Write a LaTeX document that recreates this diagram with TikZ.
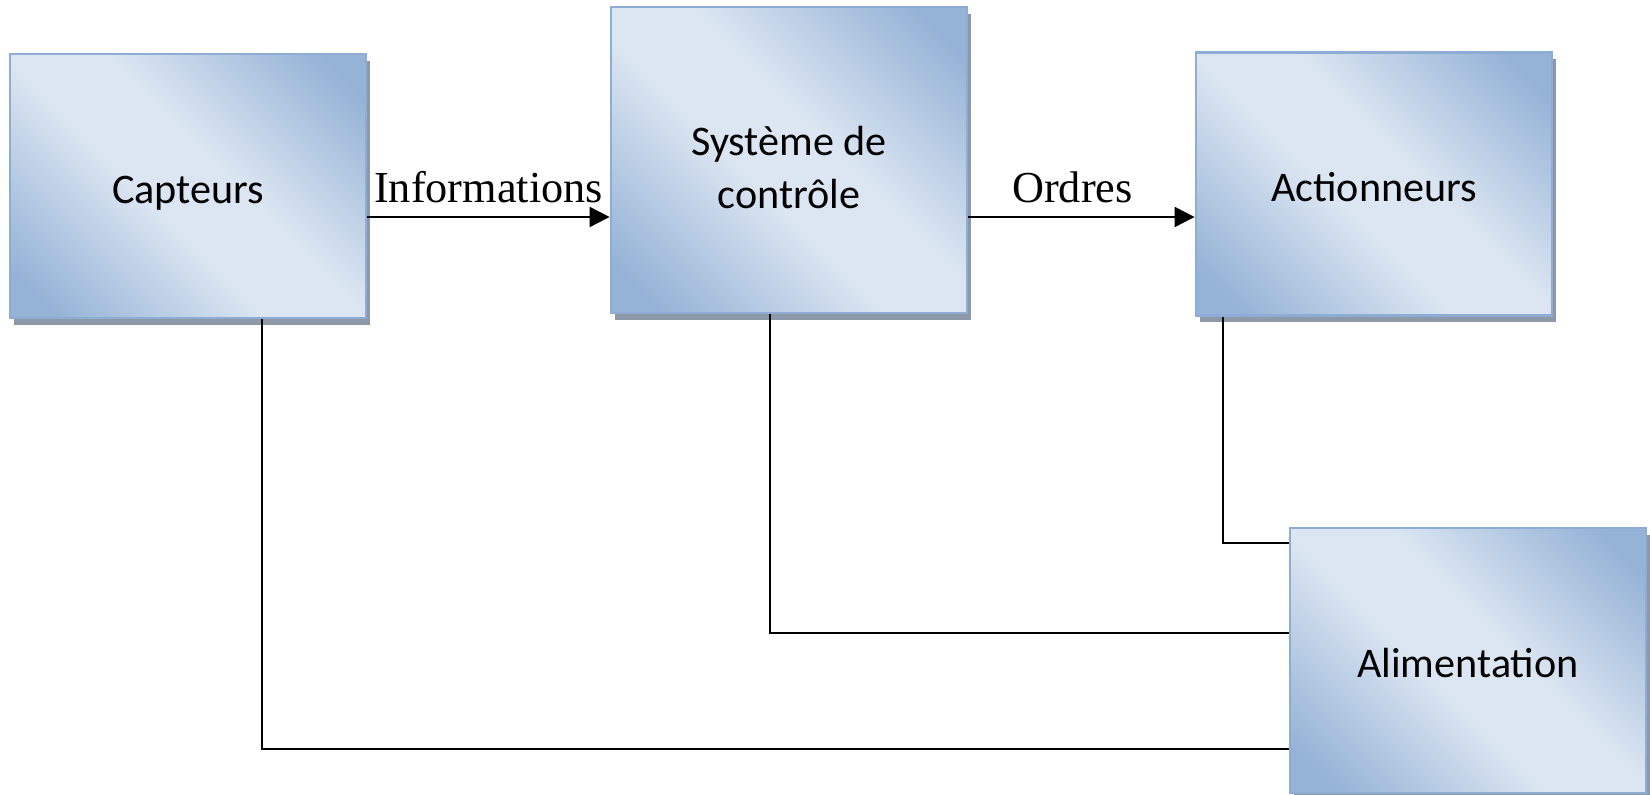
\documentclass[tikz,border=0pt]{standalone}
\usepackage{fontspec}
\setmainfont{Carlito}
\newfontfamily\labelfont{Liberation Serif}
\usepackage{tikz}
\usetikzlibrary{arrows.meta,positioning,shadows}
\definecolor{boxdark}{HTML}{95B3D7}
\definecolor{boxlight}{HTML}{DCE6F2}
\definecolor{boxborder}{HTML}{8EACD4}
\definecolor{boxshadow}{HTML}{8D99A9}
\pgfdeclarehorizontalshading{boxshade}{100bp}{color(0bp)=(boxdark); color(20bp)=(boxdark); color(44bp)=(boxlight); color(56bp)=(boxlight); color(80bp)=(boxdark); color(100bp)=(boxdark)}

\begin{document}
\begin{tikzpicture}[
    font=\fontsize{12}{15}\selectfont,
    >={Triangle[length=2mm,width=2mm]},
    block/.style={draw=boxborder, line width=0.8pt, shading=boxshade, shading angle=45, align=center, inner sep=0pt, minimum width=3.56cm, text depth=2.5pt,
        drop shadow={shadow xshift=0.04cm, shadow yshift=-0.07cm, fill=boxshadow, opacity=1}},
    line/.style={line width=0.6pt, black},
    arrline/.style={line, ->},
    flowlabel/.style={font=\labelfont\fontsize{12.6}{15}\selectfont, anchor=base, yshift=0.14cm}
]
\useasboundingbox (0,0) rectangle (16.5,-7.95);

% Blocks
\node[block, minimum height=2.64cm, text height=12.2pt] (capt) at (1.88,-1.86) {Capteurs};
\node[block, minimum height=3.06cm, text height=29.9pt] (sys) at (7.89,-1.60) {Système de\\contrôle};
\node[block, minimum height=2.63cm, text height=12.2pt] (act) at (13.74,-1.84) {Actionneurs};
\node[block, minimum height=2.65cm, text height=12pt] (alim) at (14.68,-6.605) {Alimentation};

% Information and order flow
\draw[arrline] ([yshift=-0.31cm]capt.east) -- node[flowlabel]{Informations} ([yshift=-0.31cm]capt.east -| sys.west);
\draw[arrline] ([yshift=-0.57cm]sys.east) -- node[flowlabel, pos=0.46]{Ordres} ([yshift=-0.57cm]sys.east -| act.west);

% Power supply lines
\draw[line] ([xshift=0.74cm]capt.south) |- ([yshift=-0.885cm]alim.west);
\draw[line] ([xshift=-0.19cm]sys.south) |- ([yshift=0.275cm]alim.west);
\draw[line] ([xshift=-1.51cm]act.south) |- ([yshift=1.175cm]alim.west);

\end{tikzpicture}
\end{document}
